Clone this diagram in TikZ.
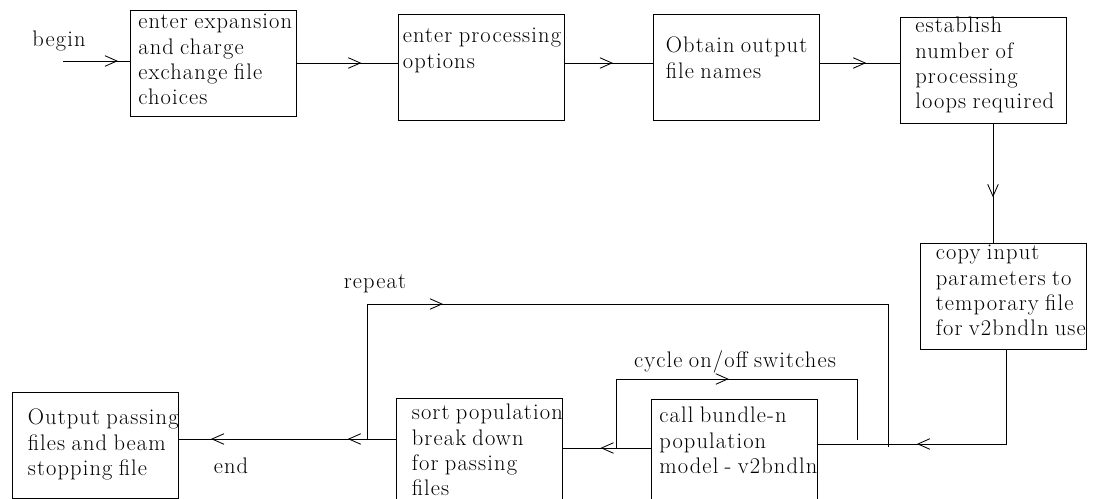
\documentclass[tikz,border=0pt]{standalone}
\usepackage{fontspec}
\setmainfont{Latin Modern Roman}[LetterSpace=5, WordSpace=0.8]
\usetikzlibrary{positioning, arrows.meta, decorations.markings}
\tikzset{>=latex}
\tikzset{
  procbox/.style={draw, line width=0.6pt, minimum width=4.15cm, minimum height=2.65cm, inner sep=0pt},
  proctext/.style={anchor=north west, inner sep=0pt, align=left, font=\fontsize{16}{18}\selectfont},
  lbl/.style={anchor=base, inner sep=0pt, font=\fontsize{16}{18}\selectfont},
  barb/.tip={Straight Barb[length=8.5pt, width=7.5pt, line width=0.6pt]},
  flow/.style={line width=0.6pt, postaction={decorate},
    decoration={markings, mark=at position #1 with {\arrow{barb}}}},
  flowtwo/.style 2 args={line width=0.6pt, postaction={decorate},
    decoration={markings, mark=at position #1 with {\arrow{barb}},
      mark=at position #2 with {\arrow{barb}}}}
}

\begin{document}
\begin{tikzpicture}[x=0.025cm, y=-0.025cm]
  \useasboundingbox (0,0) rectangle (1101,499);
  \clip (0,0) rectangle (1101,499);
  % boxes
  \node[procbox] (n1) at (213.5,63) {};
  \node[procbox] (n2) at (481,67) {};
  \node[procbox] (n3) at (736,67) {};
  \node[procbox] (n4) at (983.5,70) {};
  \node[procbox] (n5) at (1003,296) {};
  \node[procbox] (n6) at (734.5,452) {};
  \node[procbox] (n7) at (479,451) {};
  \node[procbox] (n8) at (95,445) {};
  % box texts
  \node[proctext] (t1) at ([shift={(8,1.3)}]n1.north west) {\strut enter expansion\\and charge\\exchange file\\choices};
  \node[proctext] (t2) at ([shift={(5,11.3)}]n2.north west) {\strut enter processing\\options};
  \node[proctext] (t3) at ([shift={(13,21.3)}]n3.north west) {\strut Obtain output\\file names};
  \node[proctext] (t4) at ([shift={(15,-1.7)}]n4.north west) {\strut establish\\number of\\processing\\loops required};
  \node[proctext] (t5) at ([shift={(16,-0.7)}]n5.north west) {\strut copy input\\parameters to\\temporary file\\for v2bndln use};
  \node[proctext] (t6) at ([shift={(8,6.3)}]n6.north west) {\strut call bundle-n\\population\\model - v2bndln};
  \node[proctext] (t7) at ([shift={(16,4.3)}]n7.north west) {\strut sort population\\break down\\for passing\\files};
  \node[proctext] (t8) at ([shift={(16,15.3)}]n8.north west) {\strut Output passing\\files and beam\\stopping file};
  % labels
  \node[lbl] (lbegin) at (59,47) {begin};
  \node[lbl] (lrepeat) at (375,288) {repeat};
  \node[lbl] (lcycle) at (735,367) {cycle on/off switches};
  \node[lbl] (lend) at (231,473) {end};
  % junctions
  \coordinate (aux0) at (63,61);
  \coordinate (aux1) at (993,183);
  \coordinate (aux2) at (1006,444);
  \coordinate (aux3) at (616,448);
  \coordinate (aux4) at (857,440);
  \coordinate (aux6) at (367,439);
  \coordinate (aux7) at (888,447);
  % connectors
  \draw[flow=0.82] (aux0) -- (aux0 -| n1.west);
  \draw[flow=0.64] (n1.east) -- (n1.east -| n2.west);
  \draw[flow=0.55] (n2.east |- n1.east) -- (n3.west |- n1.east);
  \draw[flow=0.58] (n3.east |- n1.east) -- (n4.west |- n1.east);
  \draw[flow=0.62] (n4.south -| aux1) -- (n5.north -| aux1);
  \draw[flow=0.65] (n5.south -| aux2) -- (aux2) -- (aux2 -| n6.east);
  \draw[flow=0.57] (aux3 -| n6.west) -- (aux3 -| n7.east);
  \draw[flow=0.49] (aux3) -- ++(0,-69) -| (aux4);
  \draw[flow=0.264] (aux6) -- ++(0,-135) -| (aux7);
  \draw[flowtwo={0.22}{0.85}] (n7.west |- aux6) -- (n8.east |- aux6);
\end{tikzpicture}
\end{document}
